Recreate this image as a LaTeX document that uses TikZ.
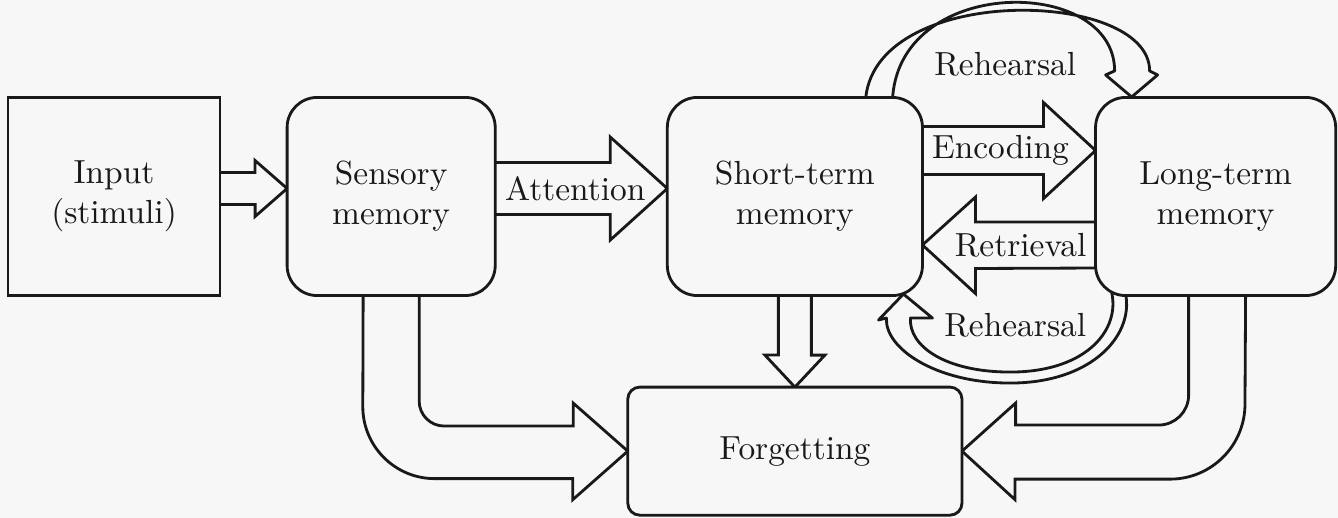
\documentclass[tikz,border=0pt]{standalone}
\usetikzlibrary{positioning, calc, backgrounds}
\definecolor{PaperGray}{RGB}{247,247,247}
\definecolor{InkBlack}{RGB}{25,25,25}

\begin{document}
\begin{tikzpicture}[
    x=0.01cm, y=0.01cm,
    every node/.style={font=\fontsize{9.5}{11.4}\selectfont, align=center, text=InkBlack},
    store/.style={rectangle, draw=InkBlack, fill=PaperGray, rounded corners=0.3cm, line width=0.8pt, inner sep=0pt, outer sep=0pt, minimum height=1.98cm},
    source/.style={store, sharp corners},
    fat/.style={draw=InkBlack, fill=PaperGray, line width=0.8pt, line join=miter},
    band/.style={fat, line join=round}
  ]
    \useasboundingbox (0,0) rectangle (1338,518);

    % Stores
    \node[source, minimum width=2.12cm] (input) at (114,321.5) {Input\\(stimuli)};
    \node[store, minimum width=2.08cm, right=0.67cm of input] (sensory) {Sensory\\memory};
    \node[store, minimum width=2.55cm, right=1.72cm of sensory] (stm) {Short-term\\memory};
    \node[store, minimum width=2.40cm, right=1.73cm of stm] (ltm) {Long-term\\memory};
    \node[store, minimum width=3.34cm, minimum height=1.28cm, rounded corners=0.12cm, below=0.915cm of stm] (forget) {Forgetting};

    \begin{scope}[on background layer]
      \fill[PaperGray] (0,0) rectangle (1338,518);
      \coordinate (rb) at ($(stm.south)!0.5!(ltm.south)+(5,-87.5)$);

      % Rehearsal loops
      \draw[band] ($(stm.north)+(97.5,-5)$) .. controls +(3,128) and +(0,96) .. ($(ltm.north)+(-101,26.5)$)
        -- ++(-9,-4) -- ($(ltm.north)+(-84,0.5)$) -- ($(ltm.north)+(-58,22.5)$) -- ++(-8,4)
        .. controls +(0,83) and +(5,120) .. ($(stm.north)+(70.5,-5)$);
      \draw[band] ($(ltm.south west)+(3,29.5)$) .. controls +(36,-44) and +(92,0) .. ($(rb)+(0,11)$)
        .. controls +(-65,0) and +(-2,-28) .. ($(stm.south east)+(-12,-22.5)$)
        -- ++(22,0) -- ($(stm.south east)+(-19,1.5)$) -- ++(-25,-26) -- ++(8,2)
        .. controls +(-2,-30) and +(-75,0) .. (rb)
        .. controls +(102,0) and +(45,-45) .. ($(ltm.south west)+(13,32.5)$);

      % Transfers
      \draw[fat] ($(input.east)+(-5,24)$) -- ++(40,0) -- ++(0,12) -- ($(sensory.west)+(0,8)$) -- ++(-32,-28) -- ++(0,12) -- ($(input.east)+(-5,-8)$);
      \draw[fat] ($(sensory.east)+(-5,34)$) -- ++(120,0) -- ++(0,25.5) -- ($(stm.west)+(0,8)$) -- ++(-57,-51.5) -- ++(0,25.5) -- ($(sensory.east)+(-5,-18)$);
      \draw[fat] ($(stm.east)+(-5,70)$) -- ++(126,0) -- ++(0,24) -- ($(ltm.west)+(0,46)$) -- ++(-52,-48) -- ++(0,24) -- ($(stm.east)+(-5,22)$);
      \draw[fat] ($(ltm.west)+(5,-25.5)$) -- ++(-125,0) -- ++(0,25) -- ($(stm.east)+(0,-48.5)$) -- ++(53,-48.5) -- ++(0,25) -- ($(ltm.west)+(5,-71.5)$);

      % Forgetting
      \draw[fat] ($(stm.south)+(-16.5,5)$) -- ++(0,-64.5) -- ++(-13.5,0) -- (forget.north) -- ++(30,32) -- ++(-13.5,0) -- ($(stm.south)+(16.5,5)$);
      \draw[fat] ($(sensory.south)+(28,5)$) -- ++(0,-110.5) arc[start angle=180, end angle=270, radius=25] -- ++(129,0) -- ++(0,23)
        -- (forget.west) -- ++(-55,-48.5) -- ++(0,21) -- ++(-138,0) arc[start angle=270, end angle=180, radius=72] -- ($(sensory.south)+(-28,5)$);
      \draw[fat] ($(ltm.south)+(-27,5)$) -- ++(0,-104.5) arc[start angle=0, end angle=-90, radius=30] -- ++(-143,0) -- ++(0,22)
        -- (forget.east) -- ++(53,-48.5) -- ++(0,20.5) -- ++(155,0) arc[start angle=270, end angle=360, radius=75] -- ($(ltm.south)+(30,5)$);
    \end{scope}

    % Labels
    \node (attention) at ($(sensory.east)+(80,8)$) {Attention};
    \node (encoding) at ($(stm.east)+(78,46)$) {Encoding};
    \node (retrieval) at ($(ltm.west)+(-75,-48.5)$) {Retrieval};
    \node (rehearsaltop) at ($(stm.north)!0.5!(ltm.north)+(0,33)$) {Rehearsal};
    \node (rehearsalbot) at ($(stm.south)!0.5!(ltm.south)+(10,-30)$) {Rehearsal};
\end{tikzpicture}
\end{document}
